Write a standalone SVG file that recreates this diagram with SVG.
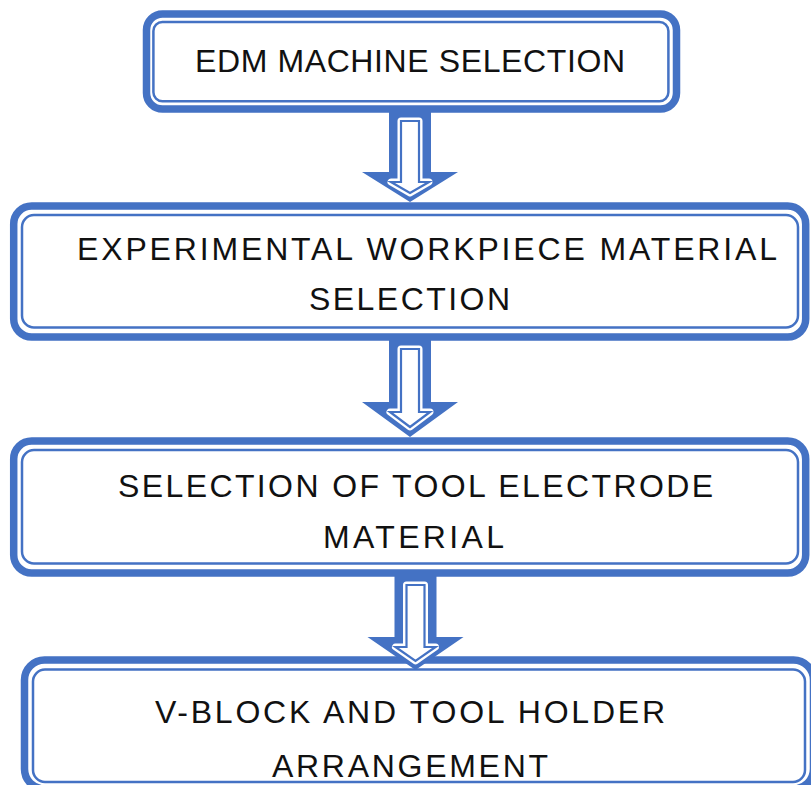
<svg xmlns="http://www.w3.org/2000/svg" width="811" height="785" viewBox="0 0 811 785">
<style>
.thick{fill:#fff;stroke:#4472C4;stroke-width:7.5}
.thin{fill:none;stroke:#4472C4;stroke-width:2.5}
.lbl{font-family:"Liberation Sans",Arial,sans-serif;font-size:32px;fill:#111}
.aout{fill:#4472C4}
.ahalo{fill:#fff;stroke:#fff;stroke-width:7;stroke-linejoin:round}
.ain{fill:none;stroke:#4472C4;stroke-width:2.2;stroke-linejoin:miter}
</style>
<rect width="811" height="785" fill="#fff"/>
<g id="node1">
<rect class="thick" x="146.5" y="14" width="530" height="95" rx="16"/>
<rect class="thin" x="153.4" y="22" width="515" height="79.3" rx="9"/>
<text class="lbl" x="195" y="72" textLength="430" lengthAdjust="spacing">EDM MACHINE SELECTION</text>
</g>
<g id="node2">
<rect class="thick" x="13.7" y="206" width="792" height="131" rx="18"/>
<rect class="thin" x="22" y="215" width="776" height="112.5" rx="12"/>
<text class="lbl" x="77" y="260" textLength="700" lengthAdjust="spacing">EXPERIMENTAL WORKPIECE MATERIAL</text>
<text class="lbl" x="309" y="310" textLength="201" lengthAdjust="spacing">SELECTION</text>
</g>
<g id="node3">
<rect class="thick" x="13.7" y="441" width="792" height="132" rx="18"/>
<rect class="thin" x="22" y="450" width="776" height="113.5" rx="12"/>
<text class="lbl" x="118" y="497" textLength="595" lengthAdjust="spacing">SELECTION OF TOOL ELECTRODE</text>
<text class="lbl" x="323" y="548" textLength="181" lengthAdjust="spacing">MATERIAL</text>
</g>
<g id="node4">
<rect class="thick" x="24.5" y="660" width="789" height="129" rx="20"/>
<rect class="thin" x="33" y="669.5" width="772" height="112.5" rx="12"/>
<text class="lbl" x="155" y="723" textLength="510" lengthAdjust="spacing">V-BLOCK AND TOOL HOLDER</text>
<text class="lbl" x="272" y="777" textLength="276" lengthAdjust="spacing">ARRANGEMENT</text>
</g>
<g id="connectors">
<g id="arrow1" transform="translate(410,0)">
<polygon class="aout" points="-21,109 21,109 21,172 48,172 0,202 -48,172 -21,172"/>
<polygon class="ahalo" points="-9,121 9,121 9,182 19,182 0,193 -19,182 -9,182"/>
<polygon class="ain" points="-9,121 9,121 9,182 19,182 0,193 -19,182 -9,182"/>
</g>
<g id="arrow2" transform="translate(410,0)">
<polygon class="aout" points="-21,337 21,337 21,402 48,402 0,437 -48,402 -21,402"/>
<polygon class="ahalo" points="-9,349 9,349 9,412 20,412 0,427 -20,412 -9,412"/>
<polygon class="ain" points="-9,349 9,349 9,412 20,412 0,427 -20,412 -9,412"/>
</g>
<g id="arrow3" transform="translate(415.5,0)">
<polygon class="aout" points="-21,573 21,573 21,637 48,637 0,670 -48,637 -21,637"/>
<polygon class="ahalo" points="-9,585 9,585 9,647 20,647 0,661 -20,647 -9,647"/>
<polygon class="ain" points="-9,585 9,585 9,647 20,647 0,661 -20,647 -9,647"/>
</g>
</g>
</svg>
